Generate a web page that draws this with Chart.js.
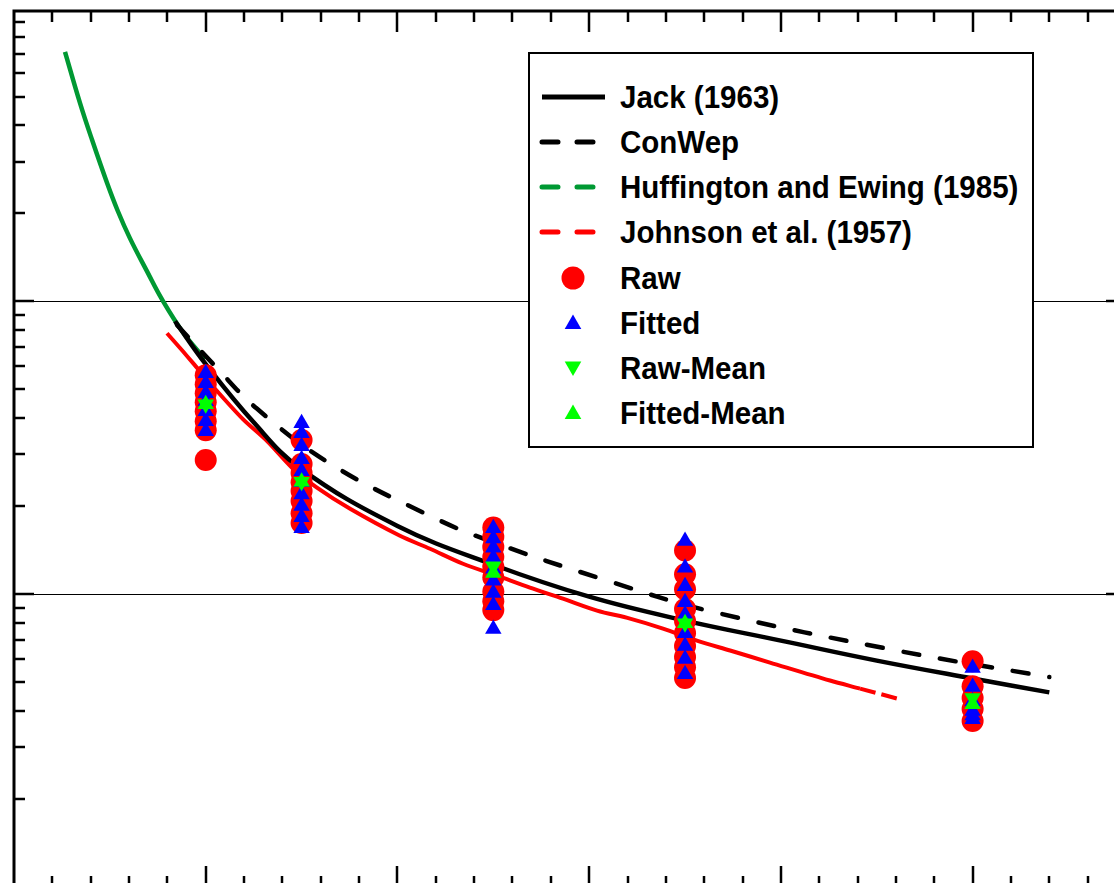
<!DOCTYPE html>
<html>
<head>
<meta charset="utf-8">
<script src="https://cdn.jsdelivr.net/npm/chart.js@4.4.1/dist/chart.umd.min.js"></script>
<style>
  html, body { margin: 0; padding: 0; background: #fff; overflow: hidden; }
  #wrap { position: relative; width: 1114px; height: 883px; overflow: hidden; }
  #chart { position: absolute; left: 0; top: 0; }
  #legend {
    position: absolute; left: 528px; top: 52px; width: 506px; height: 396px;
    box-sizing: border-box; border: 2px solid #000; background: #fff;
  }
  #legend .sym { position: absolute; left: 0; width: 90px; height: 30px; }
  #legend .txt {
    position: absolute; left: 90px; white-space: nowrap;
    font: bold 31px "Liberation Sans", Arial, sans-serif; line-height: 31px;
    color: #000; transform: scaleX(0.952); transform-origin: left center;
  }
</style>
</head>
<body>
<div id="wrap">
  <canvas id="chart" width="1140" height="901"></canvas>
  <div id="legend"></div>
</div>
<script>
// scaled distance of each test group
const groups = [1.0, 1.5, 2.5, 3.5, 5.0];

// measured peaks per group
const raw = [
  [5.59, 5.21, 4.85, 4.52, 4.21, 3.89, 3.63, 2.87],
  [3.36, 2.78, 2.59, 2.41, 2.25, 2.08, 1.89, 1.75],
  [1.69, 1.57, 1.45, 1.34, 1.24, 1.14, 1.02, 0.946, 0.882],
  [1.41, 1.17, 1.04, 0.889, 0.809, 0.736, 0.665, 0.61, 0.563, 0.517],
  [0.59, 0.485, 0.442, 0.405, 0.369]
];
const fitted = [
  [5.68, 5.25, 4.85, 4.56, 4.21, 3.89, 3.6],
  [3.83, 3.54, 3.2, 2.89, 2.63, 2.41, 2.19, 2.0, 1.83, 1.68],
  [1.68, 1.55, 1.44, 1.33, 1.22, 1.11, 1.01, 0.917, 0.76],
  [1.52, 1.23, 1.065, 0.939, 0.85, 0.736, 0.665, 0.6, 0.533],
  [0.559, 0.482, 0.431, 0.399, 0.385, 0.374]
];
const rawMean = [4.45, 2.42, 1.246, 0.796, 0.442];
const fittedMean = [4.45, 2.42, 1.18, 0.796, 0.421];

// reference curves
const jackX = [0.84, 1.0, 1.25, 1.49, 2.0, 2.5, 3.0, 3.5, 4.0, 4.5, 5.0, 5.4];
const jackY = [8.55, 6.1, 3.86, 2.70, 1.71, 1.26, 0.98, 0.812, 0.694, 0.593, 0.515, 0.462];

const conwepX = [0.85, 1.05, 1.265, 1.645, 2.17, 2.48, 3.08, 3.63, 4.62, 5.4];
const conwepY = [8.3, 6.0, 4.31, 2.80, 1.85, 1.52, 1.12, 0.875, 0.639, 0.521];

const huffX = [0.266, 0.344, 0.407, 0.485, 0.542, 0.605, 0.694, 0.772, 0.881, 0.996];
const huffY = [71.1, 47.6, 35.6, 25.4, 20.3, 16.4, 12.65, 10.15, 7.84, 6.34];

const johnsonX = [0.798, 0.881, 0.934, 1.059, 1.194, 1.32, 1.455, 1.58, 1.753, 2.013, 2.17,
  2.342, 2.519, 2.691, 2.863, 3.041, 3.213, 3.385, 3.562, 3.735, 3.943, 4.256, 4.413, 4.606];
const johnsonY = [7.78, 6.75, 6.15, 4.94, 3.96, 3.33, 2.68, 2.31, 1.956, 1.582, 1.429,
  1.27, 1.156, 1.052, 0.965, 0.879, 0.825, 0.763, 0.694, 0.642, 0.584, 0.507, 0.476, 0.44];

// axes
const xMin = 0, xMax = 5.8, xMajor = 1, xMinorPerMajor = 5;
const yMin = 0.1, yMax = 98;
const gridLevels = [1, 10];

const toPts = (xs, ys) => xs.map((x, i) => ({ x: x, y: ys[i] }));
const groupPts = (vals) => groups.flatMap((g, i) => vals[i].map(v => ({ x: g, y: v })));
const meanPts = (vals) => groups.map((g, i) => ({ x: g, y: vals[i] }));

const RED = '#ff0000', BLUE = '#0000ff', LIME = '#00ff00', DKGREEN = '#009933';

// inward ticks and frame on all four sides
const frameTicks = {
  id: 'frameTicks',
  afterDraw(chart) {
    const { ctx, chartArea: a, scales: { x, y } } = chart;
    ctx.save();
    ctx.strokeStyle = '#000';
    ctx.lineWidth = 2.5;
    ctx.beginPath();
    const step = xMajor / xMinorPerMajor;
    for (let i = 1; i * step <= xMax + 1e-9; i++) {
      const px = Math.round(x.getPixelForValue(i * step));
      const len = i % xMinorPerMajor === 0 ? 21 : 11;
      ctx.moveTo(px, a.top); ctx.lineTo(px, a.top + len);
      ctx.moveTo(px, a.bottom); ctx.lineTo(px, a.bottom - len);
    }
    for (let n = -1; n <= 2; n++) {
      for (let k = 1; k <= 9; k++) {
        const v = k * Math.pow(10, n);
        if (v <= yMin || v >= yMax) continue;
        const py = Math.round(y.getPixelForValue(v));
        const len = k === 1 ? 20 : 11;
        ctx.moveTo(a.left, py); ctx.lineTo(a.left + len, py);
        ctx.moveTo(a.right, py); ctx.lineTo(a.right - len, py);
      }
    }
    ctx.stroke();
    ctx.lineWidth = 3;
    ctx.strokeRect(a.left, a.top, a.right - a.left, a.bottom - a.top);
    ctx.restore();
  }
};

const ctx = document.getElementById('chart').getContext('2d');
const chart = new Chart(ctx, {
  type: 'scatter',
  data: {
    datasets: [
      { label: 'Fitted-Mean', data: meanPts(fittedMean), pointStyle: 'triangle', pointRadius: 9.5,
        backgroundColor: LIME, borderColor: LIME, pointBorderWidth: 0, order: 1 },
      { label: 'Raw-Mean', data: meanPts(rawMean), pointStyle: 'triangle', pointRotation: 180, pointRadius: 9.5,
        backgroundColor: LIME, borderColor: LIME, pointBorderWidth: 0, order: 2 },
      { label: 'Fitted', data: groupPts(fitted), pointStyle: 'triangle', pointRadius: 9.5,
        backgroundColor: BLUE, borderColor: BLUE, pointBorderWidth: 0, order: 3 },
      { label: 'Raw', data: groupPts(raw), pointStyle: 'circle', pointRadius: 11,
        backgroundColor: RED, borderColor: RED, pointBorderWidth: 0, order: 4 },
      { label: 'Jack (1963)', data: toPts(jackX, jackY), showLine: true, borderColor: '#000',
        borderWidth: 4.5, pointRadius: 0, tension: 0.4, order: 5 },
      { label: 'ConWep', data: toPts(conwepX, conwepY), showLine: true, borderColor: '#000',
        borderWidth: 4.5, borderDash: [16, 21], borderCapStyle: 'round', pointRadius: 0,
        tension: 0.4, order: 6 },
      { label: 'Johnson et al. (1957)', data: toPts(johnsonX, johnsonY), showLine: true, borderColor: RED,
        borderWidth: 4, pointRadius: 0, tension: 0.3, order: 7,
        segment: { borderDash: (s) => s.p0DataIndex >= 22 ? [16, 6] : undefined } },
      { label: 'Huffington and Ewing (1985)', data: toPts(huffX, huffY), showLine: true, borderColor: DKGREEN,
        borderWidth: 4.5, pointRadius: 0, tension: 0.4, order: 8 }
    ]
  },
  options: {
    responsive: false,
    animation: false,
    devicePixelRatio: 1,
    layout: { padding: { left: 14, top: 9, right: 14, bottom: 14 } },
    plugins: { legend: { display: false }, tooltip: { enabled: false } },
    scales: {
      x: { type: 'linear', min: xMin, max: xMax, display: false },
      y: {
        type: 'logarithmic', min: yMin, max: yMax,
        afterBuildTicks: (s) => { s.ticks = gridLevels.map(v => ({ value: v })); },
        ticks: { display: false },
        grid: { color: '#000', lineWidth: 1, drawTicks: false },
        border: { display: false }
      }
    }
  },
  plugins: [frameTicks]
});

// legend box
const legendItems = [
  { label: 'Jack (1963)', kind: 'line', color: '#000' },
  { label: 'ConWep', kind: 'dash', color: '#000' },
  { label: 'Huffington and Ewing (1985)', kind: 'dash', color: DKGREEN },
  { label: 'Johnson et al. (1957)', kind: 'dash', color: RED },
  { label: 'Raw', kind: 'circle', color: RED },
  { label: 'Fitted', kind: 'up', color: BLUE },
  { label: 'Raw-Mean', kind: 'down', color: LIME },
  { label: 'Fitted-Mean', kind: 'up', color: LIME }
];
const legend = document.getElementById('legend');
legendItems.forEach((it, i) => {
  const cy = 42.7 + 45.2 * i;  // centre inside the box
  let shape = '';
  if (it.kind === 'line') {
    shape = `<line x1="12" y1="15" x2="75" y2="15" stroke="${it.color}" stroke-width="5"/>`;
  } else if (it.kind === 'dash') {
    shape = `<line x1="12" y1="15" x2="64" y2="15" stroke="${it.color}" stroke-width="5" stroke-dasharray="16 19" stroke-linecap="round"/>`;
  } else if (it.kind === 'circle') {
    shape = `<circle cx="43" cy="15" r="11.5" fill="${it.color}"/>`;
  } else if (it.kind === 'up') {
    shape = `<polygon points="43,6.5 51.3,21 34.7,21" fill="${it.color}"/>`;
  } else {
    shape = `<polygon points="43,23 51.3,8.5 34.7,8.5" fill="${it.color}"/>`;
  }
  const sym = document.createElement('div');
  sym.className = 'sym';
  sym.style.top = (cy - 15) + 'px';
  sym.innerHTML = `<svg width="90" height="30" xmlns="http://www.w3.org/2000/svg">${shape}</svg>`;
  legend.appendChild(sym);
  const txt = document.createElement('div');
  txt.className = 'txt';
  txt.style.top = (cy - 14.9) + 'px';
  txt.textContent = it.label;
  legend.appendChild(txt);
});
</script>
</body>
</html>
